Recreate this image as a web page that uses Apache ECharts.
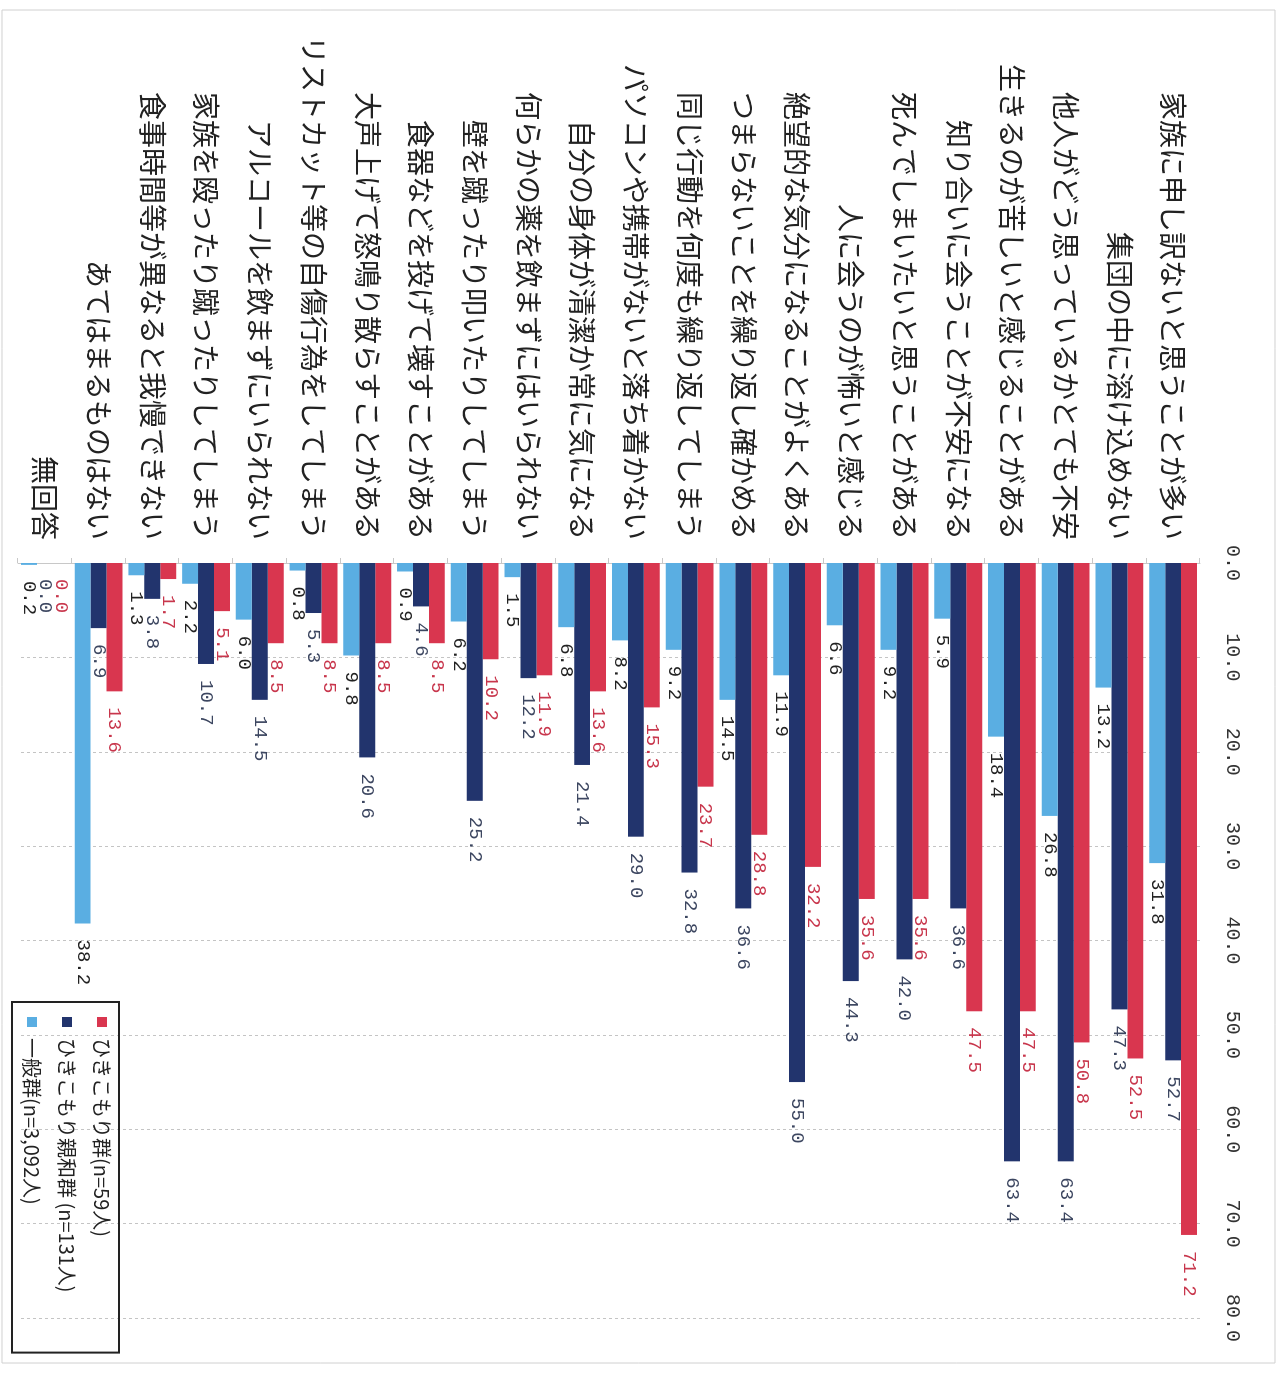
<!DOCTYPE html>
<html>
<head>
<meta charset="utf-8">
<script src="https://cdn.jsdelivr.net/npm/echarts@6/dist/echarts.min.js"></script>
<style>
  html, body { margin: 0; padding: 0; background: #fff; overflow: hidden; }
  #page { position: relative; width: 1282px; height: 1374px; overflow: hidden; }
  /* the chart is laid out as a horizontal bar chart and turned a quarter turn clockwise */
  #chart {
    position: absolute; left: 0; top: 0;
    width: 1374px; height: 1282px;
    transform-origin: 0 0;
    transform: translateX(1282px) rotate(90deg);
  }
</style>
</head>
<body>
<div id="page"><div id="chart"></div></div>
<script>
const categories = [
  '家族に申し訳ないと思うことが多い',
  '集団の中に溶け込めない',
  '他人がどう思っているかとても不安',
  '生きるのが苦しいと感じることがある',
  '知り合いに会うことが不安になる',
  '死んでしまいたいと思うことがある',
  '人に会うのが怖いと感じる',
  '絶望的な気分になることがよくある',
  'つまらないことを繰り返し確かめる',
  '同じ行動を何度も繰り返してしまう',
  'パソコンや携帯がないと落ち着かない',
  '自分の身体が清潔か常に気になる',
  '何らかの薬を飲まずにはいられない',
  '壁を蹴ったり叩いたりしてしまう',
  '食器などを投げて壊すことがある',
  '大声上げて怒鳴り散らすことがある',
  'リストカット等の自傷行為をしてしまう',
  'アルコールを飲まずにいられない',
  '家族を殴ったり蹴ったりしてしまう',
  '食事時間等が異なると我慢できない',
  'あてはまるものはない',
  '無回答'
];

const seriesNames = ['ひきこもり群(n=59人)', 'ひきこもり親和群 (n=131人)', '一般群(n=3,092人)'];

const hikikomori = [71.2, 52.5, 50.8, 47.5, 47.5, 35.6, 35.6, 32.2, 28.8, 23.7, 15.3, 13.6, 11.9, 10.2, 8.5, 8.5, 8.5, 8.5, 5.1, 1.7, 13.6, 0.0];
const shinwa     = [52.7, 47.3, 63.4, 63.4, 36.6, 42.0, 44.3, 55.0, 36.6, 32.8, 29.0, 21.4, 12.2, 25.2, 4.6, 20.6, 5.3, 14.5, 10.7, 3.8, 6.9, 0.0];
const ippan      = [31.8, 13.2, 26.8, 18.4, 5.9, 9.2, 6.6, 11.9, 14.5, 9.2, 8.2, 6.8, 1.5, 6.2, 0.9, 9.8, 0.8, 6.0, 2.2, 1.3, 38.2, 0.2];

const axisTicks = [0, 10, 20, 30, 40, 50, 60, 70, 80];

const colors = ['#d9364f', '#22346d', '#5aaee2'];
const labelColors = ['#c8364c', '#3c4660', '#222222'];

const numFont = '"Liberation Mono", "DejaVu Sans Mono", monospace';
const cjkFont = '"Noto Sans CJK JP", "Noto Sans", sans-serif';

function barSeries(idx, data) {
  return {
    name: seriesNames[idx],
    type: 'bar',
    data: data,
    barGap: '0%',
    barCategoryGap: '11%',
    itemStyle: { color: colors[idx] },
    label: {
      show: true,
      position: 'right',
      distance: 16,
      formatter: p => p.value.toFixed(1),
      color: labelColors[idx],
      fontFamily: numFont,
      fontSize: 19
    }
  };
}

const chart = echarts.init(document.getElementById('chart'), null, { renderer: 'canvas' });
chart.setOption({
  backgroundColor: '#ffffff',
  animation: false,
  grid: { left: 563, right: 56, top: 82, bottom: 18, containLabel: false },
  xAxis: {
    type: 'value',
    position: 'top',
    min: axisTicks[0],
    max: axisTicks[axisTicks.length - 1],
    interval: axisTicks[1] - axisTicks[0],
    axisLine: { show: false },
    axisTick: { show: false },
    axisLabel: {
      margin: 22,
      formatter: v => v.toFixed(1),
      color: '#333',
      fontFamily: numFont,
      fontSize: 20
    },
    splitLine: { show: true, lineStyle: { color: '#c4c4c4', type: [3, 3], width: 1 } }
  },
  yAxis: {
    type: 'category',
    inverse: true,
    data: categories,
    axisLine: { show: true, lineStyle: { color: '#c8c8c8', width: 1 } },
    axisTick: { show: true, length: 5, lineStyle: { color: '#c8c8c8' } },
    axisLabel: {
      margin: 23,
      color: '#222',
      fontFamily: cjkFont,
      fontSize: 28
    }
  },
  legend: {
    orient: 'vertical',
    left: 1002,
    top: 1163,
    data: seriesNames,
    icon: 'rect',
    itemWidth: 10,
    itemHeight: 10,
    itemGap: 13,
    padding: [6, 60, 9, 15],
    borderColor: '#222',
    borderWidth: 2,
    textStyle: { color: '#222', fontFamily: cjkFont, fontSize: 20, lineHeight: 22, padding: [0, 0, 0, 6] }
  },
  graphic: [{
    type: 'rect',
    shape: { x: 10, y: 7, width: 1353, height: 1273 },
    style: { fill: 'none', stroke: '#d0d0d0', lineWidth: 1 },
    silent: true,
    z: -1
  }],
  series: [
    barSeries(0, hikikomori),
    barSeries(1, shinwa),
    barSeries(2, ippan)
  ]
});
</script>
</body>
</html>
